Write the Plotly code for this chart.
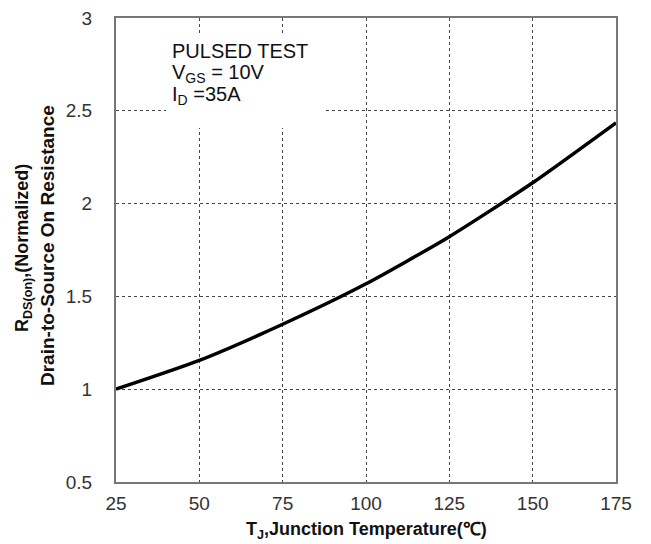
import plotly.graph_objects as go

temps = [25, 50, 75, 100, 125, 150, 175]
rds_norm = [1.0, 1.155, 1.35, 1.568, 1.822, 2.112, 2.435]

x_ticks = [25, 50, 75, 100, 125, 150, 175]
y_ticks = [0.5, 1, 1.5, 2, 2.5, 3]
y_tick_text = ["0.5", "1", "1.5", "2", "2.5", "3"]

note_lines = ["PULSED TEST", "V<sub>GS</sub> = 10V", "I<sub>D</sub> =35A"]
x_title = "T<sub>J</sub>,Junction Temperature(℃)"
y_title_lines = ["R<sub>DS(on)</sub>,(Normalized)", "Drain-to-Source On Resistance"]

font_family = "Arial, Liberation Sans, sans-serif"

# page offset (body margin) and plot geometry
L, T, W, H = 108, 10, 500, 464
PX0, PY0 = 116, 18


def px(X):
    return (X - PX0) / W


def py(Y):
    return (PY0 + H - Y) / H


fig = go.Figure()
fig.add_trace(go.Scatter(
    x=temps, y=rds_norm, mode="lines",
    line=dict(color="black", width=3.5, shape="spline", smoothing=0.6),
    hoverinfo="skip", showlegend=False,
))

fig.add_shape(type="rect", xref="x", yref="y", x0=40, x1=87.7, y0=2.407, y1=2.903,
              fillcolor="white", line=dict(width=0), layer="above")

for i, (txt, yc) in enumerate(zip(note_lines, [51.5, 73.5, 95.5])):
    fig.add_annotation(
        xref="paper", yref="paper", x=px(170), y=py(yc), xanchor="left", yanchor="middle",
        text=txt, showarrow=False, align="left",
        font=dict(family=font_family, size=20, color="#111111"),
    )

fig.add_annotation(
    xref="paper", yref="paper", x=px(366), y=py(530), xanchor="center", yanchor="middle",
    text=x_title, showarrow=False,
    font=dict(family=font_family, size=18, color="#111111", weight="bold"),
)
for txt, (xc, yc), sz in zip(y_title_lines, [(23, 248), (47, 246)], [18, 19]):
    fig.add_annotation(
        xref="paper", yref="paper", x=px(xc), y=py(yc), xanchor="center", yanchor="middle",
        text=txt, showarrow=False, textangle=-90,
        font=dict(family=font_family, size=sz, color="#111111", weight="bold"),
    )

fig.update_layout(
    width=643, height=536,
    margin=dict(l=L, r=643 - L - W, t=T, b=536 - T - H),
    paper_bgcolor="white", plot_bgcolor="white",
    font=dict(family=font_family),
)

fig.update_xaxes(
    range=[25, 175], tickvals=x_ticks, ticktext=[str(v) for v in x_ticks],
    showgrid=True, gridcolor="#444444", gridwidth=1, griddash="dot",
    showline=True, linecolor="#777777", linewidth=2, mirror=True,
    ticks="", ticklabelstandoff=3, zeroline=False, automargin=False,
    ticklabeloverflow="allow",
    tickfont=dict(family=font_family, size=19, color="#333333"),
)
fig.update_yaxes(
    range=[0.5, 3], tickvals=y_ticks, ticktext=y_tick_text,
    showgrid=True, gridcolor="#444444", gridwidth=1, griddash="dot",
    showline=True, linecolor="#777777", linewidth=2, mirror=True,
    ticks="", ticklabelstandoff=18, zeroline=False, automargin=False,
    ticklabeloverflow="allow",
    tickfont=dict(family=font_family, size=19, color="#333333"),
)

fig.write_html("out.html")
